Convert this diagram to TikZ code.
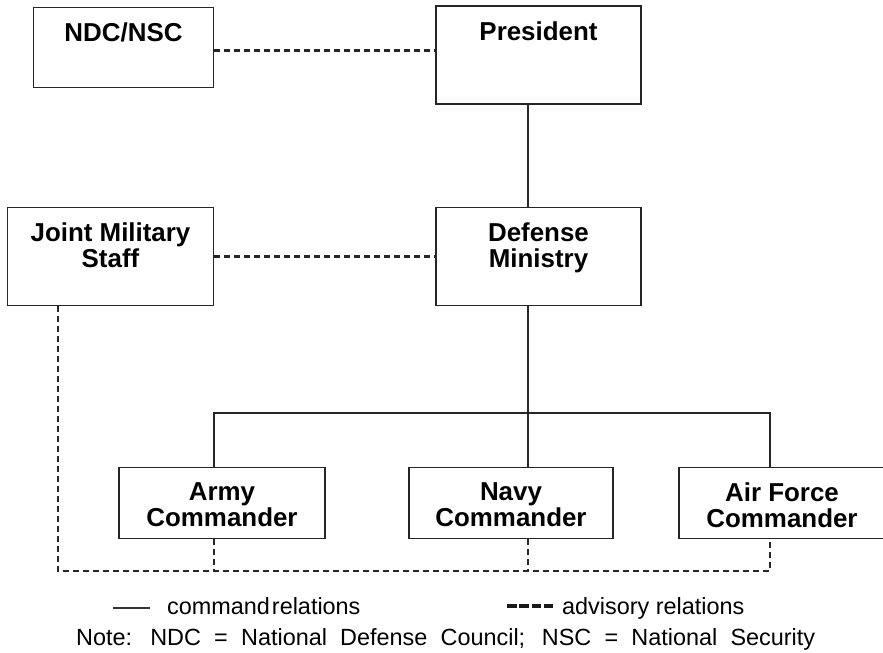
\documentclass[tikz,border=0pt]{standalone}
\usepackage{fontspec}
\setmainfont{Liberation Sans}
\begin{document}
\begin{tikzpicture}[x=1bp,y=-1bp,
  box/.style={draw=black!85, line width=1.6bp, rectangle, inner sep=0pt},
  boxtext/.style={font=\fontsize{26}{26.5}\selectfont\bfseries, align=center,
    anchor=north, inner sep=0pt},
  cmd/.style={draw=black!85, line width=1.2bp},
  adv/.style={draw=black!85, line width=2.2bp, dash pattern=on 6bp off 4bp},
  legend/.style={font=\fontsize{23.5}{26}\selectfont, anchor=base west, inner sep=0pt}
]
\useasboundingbox (0,0) rectangle (883,653);

% organisation boxes
\node[box, minimum width=180bp, minimum height=80bp]  (ndc)  at (123.5,47.5) {};
\node[box, minimum width=205bp, minimum height=98bp]  (pres) at (538.5,55)   {};
\node[box, minimum width=206bp, minimum height=98bp]  (jms)  at (110.5,256.5) {};
\node[box, minimum width=205bp, minimum height=98bp]  (def)  at (538.5,256.5) {};
\node[box, minimum width=206bp, minimum height=71bp]  (army) at (222,503)    {};
\node[box, minimum width=204bp, minimum height=71bp]  (navy) at (511,503)    {};
\node[box, minimum width=206bp, minimum height=71bp]  (air)  at (782,503)    {};

% box titles
\node[boxtext] (ndc-t)  at ([yshift=-15.5bp]ndc.north)  {NDC/NSC};
\node[boxtext] (pres-t) at ([yshift=-16.5bp]pres.north) {President};
\node[boxtext] (jms-t)  at ([yshift=-15.5bp]jms.north)  {Joint Military\\Staff};
\node[boxtext] (def-t)  at ([yshift=-15.5bp]def.north)  {Defense\\Ministry};
\node[boxtext] (army-t) at ([yshift=-15.5bp]army.north) {Army\\Commander};
\node[boxtext] (navy-t) at ([yshift=-15.5bp]navy.north) {Navy\\Commander};
\node[boxtext] (air-t)  at ([yshift=-15.5bp]air.north)  {Air Force\\Commander};

% junction points of the command tree and the advisory bus
\coordinate (trunk) at (528,413);
\coordinate (ax)    at (214,413);
\coordinate (fx)    at (770,413);
\coordinate (busL)  at (58,571);
\coordinate (busR)  at (770,571);
\coordinate (busA)  at (214,571);
\coordinate (busN)  at (528,571);

% command relations
\draw[cmd] (pres.south -| trunk) -- (def.north -| trunk);
\draw[cmd] (def.south -| trunk) -- (navy.north -| trunk);
\draw[cmd] (army.north -| ax) -- (ax) -- (fx) -- (air.north -| fx);

% advisory relations
\draw[adv] (ndc.east |- 0,50.5) -- (pres.west |- 0,50.5);
\draw[adv] (jms.east |- def.center) -- (def.west |- def.center);
\draw[adv] (jms.south -| busL) -- (busL) -- (busR) -- (air.south -| busR);
\draw[adv] (army.south -| busA) -- (busA);
\draw[adv] (navy.south -| busN) -- (busN);

% legend
\coordinate (solidA) at (113,608);
\coordinate (solidB) at (150,608);
\coordinate (dashA)  at (507,606);
\coordinate (dashB)  at (553,606);
\draw[draw=black!80, line width=1.5bp] (solidA) -- (solidB);
\draw[draw=black!90, line width=3.2bp, dash pattern=on 9.5bp off 2.8bp] (dashA) -- (dashB);
\node[legend] (cmd-l) at (167,614) {command\hspace{2bp}relations};
\node[legend] (adv-l) at (562,614) {advisory relations};
\node[legend] (note)  at (76,645)
  {\makebox[739bp][s]{Note:\hspace{-4bp} NDC = National Defense Council; NSC = National Security}};
\end{tikzpicture}
\end{document}
